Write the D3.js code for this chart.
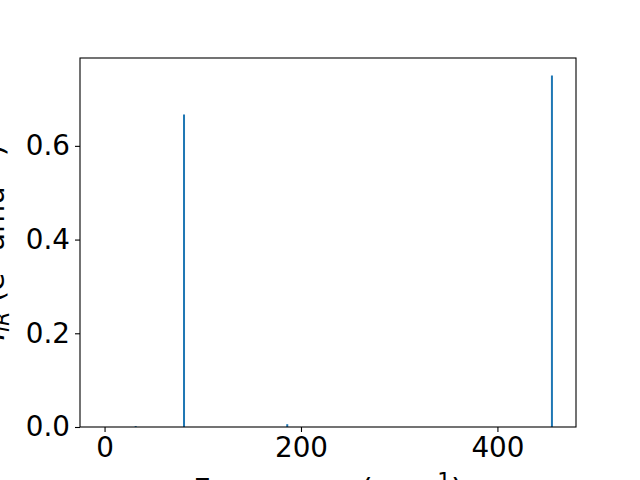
<!DOCTYPE html>
<html>
<head>
<meta charset="utf-8">
<script src="https://cdn.jsdelivr.net/npm/d3@7"></script>
<style>
    body { margin: 0; background: #fff; }
    svg { display: block; font-family: "DejaVu Sans", sans-serif; }
</style>
</head>
<body>
<div id="chart"></div>
<script>
// IR peaks: frequency (cm^-1) and intensity
const frequencies = [31.7, 80.9, 186, 455.5];
const intensities = [0.002, 0.667, 0.006, 0.75];
const xTicks = [0, 200, 400];
const yTicks = [0.0, 0.2, 0.4, 0.6];
const xDomain = [-25, 480];
const yDomain = [0, 0.7875];

const width = 640, height = 480;
const margin = { top: 58, right: 64, bottom: 53, left: 80 };
const fontSize = 27.8;
const labelSize = 30.6;

const svg = d3.select("#chart")
    .append("svg")
    .attr("width", width)
    .attr("height", height);

const x = d3.scaleLinear()
    .domain(xDomain)
    .range([margin.left, width - margin.right]);

const y = d3.scaleLinear()
    .domain(yDomain)
    .range([height - margin.bottom, margin.top]);

const peaks = frequencies.map((f, i) => ({ f: f, v: intensities[i] }));

// vertical lines for each mode
svg.append("g")
    .selectAll("line")
    .data(peaks)
    .enter()
    .append("line")
    .attr("x1", d => x(d.f))
    .attr("x2", d => x(d.f))
    .attr("y1", y(0))
    .attr("y2", d => y(d.v))
    .attr("stroke", "#1f77b4")
    .attr("stroke-width", 2);

const xAxis = svg.append("g")
    .attr("transform", `translate(0,${height - margin.bottom})`)
    .call(d3.axisBottom(x).tickValues(xTicks).tickFormat(d3.format("d")).tickSize(5).tickPadding(5));

const yAxis = svg.append("g")
    .attr("transform", `translate(${margin.left},0)`)
    .call(d3.axisLeft(y).tickValues(yTicks).tickFormat(d3.format(".1f")).tickSize(5).tickPadding(5));

[xAxis, yAxis].forEach(g => {
    g.select(".domain").remove();
    g.selectAll("line").attr("stroke", "#000").attr("stroke-width", 1.1);
    g.selectAll("text")
        .attr("fill", "#000")
        .style("font-size", fontSize + "px")
        .style("font-family", "DejaVu Sans");
});

// frame
svg.append("rect")
    .attr("x", margin.left)
    .attr("y", margin.top)
    .attr("width", width - margin.left - margin.right)
    .attr("height", height - margin.top - margin.bottom)
    .attr("fill", "none")
    .attr("stroke", "#000")
    .attr("stroke-width", 1.1);

// x label (mostly below the bottom edge, like the original)
const xLabel = svg.append("text")
    .attr("x", (margin.left + width - margin.right) / 2)
    .attr("y", 500)
    .attr("text-anchor", "middle")
    .style("font-size", labelSize + "px");
xLabel.append("tspan").text("Frequency (cm");
xLabel.append("tspan").attr("dy", -12).style("font-size", "21.5px").text("\u22121");
xLabel.append("tspan").attr("dy", 12).text(")");

// y label
const yLabel = svg.append("text")
    .attr("transform", `translate(4,${(margin.top + height - margin.bottom) / 2}) rotate(-90)`)
    .attr("text-anchor", "middle")
    .style("font-size", "29px");
yLabel.append("tspan").style("font-style", "italic").text("I");
yLabel.append("tspan").attr("dy", 5).style("font-size", "20.5px").style("font-style", "italic").text("IR");
yLabel.append("tspan").attr("dy", -5).text(" (e");
yLabel.append("tspan").attr("dy", -12).style("font-size", "20.5px").text("2");
yLabel.append("tspan").attr("dy", 12).text(" amu");
yLabel.append("tspan").attr("dy", -12).style("font-size", "20.5px").text("\u22121");
yLabel.append("tspan").attr("dy", 12).text(")");
</script>
</body>
</html>
